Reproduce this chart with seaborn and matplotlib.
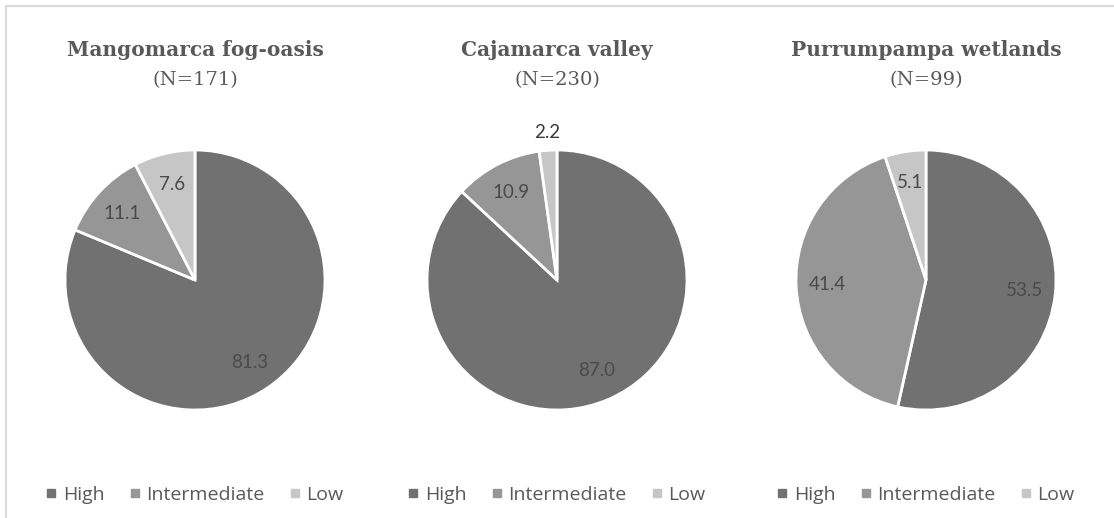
import numpy as np
import matplotlib
matplotlib.use("Agg")
import matplotlib.pyplot as plt
from matplotlib.lines import Line2D
import seaborn as sns

# Survey sites and their share of respondents by level (percent)
sites = ["Mangomarca fog-oasis", "Cajamarca valley", "Purrumpampa wetlands"]
sample_sizes = [171, 230, 99]
levels = ["High", "Intermediate", "Low"]
mangomarca = [81.3, 11.1, 7.6]
cajamarca = [87.0, 10.9, 2.2]
purrumpampa = [53.5, 41.4, 5.1]
shares = [mangomarca, cajamarca, purrumpampa]

sns.set_theme(style="white")
plt.rcParams["font.family"] = ["Lato", "DejaVu Sans"]

level_colors = sns.color_palette(["#717171", "#969696", "#c6c6c6"])
title_color = "#595959"
label_color = "#4a4a4a"

W, H = 1114, 518
fig = plt.figure(figsize=(W / 100, H / 100), dpi=100)
fig.patch.set_facecolor("white")

# chart-area frame (top and left edges)
fig.add_artist(Line2D([6 / W, 1], [1 - 6 / H, 1 - 6 / H], color="#d9d9d9", lw=1.5,
                      transform=fig.transFigure))
fig.add_artist(Line2D([6 / W, 6 / W], [0, 1 - 6 / H], color="#d9d9d9", lw=1.5,
                      transform=fig.transFigure))

centers_x = [195, 557, 926]
radius_px = 130
center_y = 280

for site, n, vals, cx in zip(sites, sample_sizes, shares, centers_x):
    ax = fig.add_axes([(cx - radius_px) / W, (H - center_y - radius_px) / H,
                       2 * radius_px / W, 2 * radius_px / H])
    wedges, _ = ax.pie(vals, colors=level_colors, startangle=90, counterclock=False,
                       wedgeprops=dict(edgecolor="white", linewidth=2.0))
    ax.set_xlim(-1, 1)
    ax.set_ylim(-1, 1)
    ax.set_aspect("equal")
    ax.axis("off")

    # value labels at the middle of each wedge; very thin wedges get theirs outside
    for w, v in zip(wedges, vals):
        mid = np.deg2rad((w.theta1 + w.theta2) / 2)
        r = 0.76 if v >= 3 else 1.14
        ax.text(r * np.cos(mid), r * np.sin(mid), f"{v:.1f}", ha="center", va="center",
                fontsize=13.5, color=label_color if v >= 3 else "#3a3a3a")

    fig.text(cx / W, 1 - 50 / H, site, ha="center", va="center", fontsize=14.5,
             fontweight="bold", family="DejaVu Serif", color=title_color)
    fig.text(cx / W, 1 - 80 / H, f"(N={n})", ha="center", va="center", fontsize=14,
             family="DejaVu Serif", color=title_color)

    handles = [Line2D([], [], marker="s", linestyle="none", markersize=6,
                      markerfacecolor=c, markeredgecolor=c) for c in level_colors]
    fig.legend(handles, levels, loc="center", ncol=3,
               bbox_to_anchor=(cx / W, 1 - 495 / H), frameon=False,
               prop={"family": "Open Sans", "size": 14}, handlelength=0.5,
               handletextpad=0.35, columnspacing=1.3, labelcolor=title_color)

fig.savefig("out.png", dpi=100, facecolor="white")
